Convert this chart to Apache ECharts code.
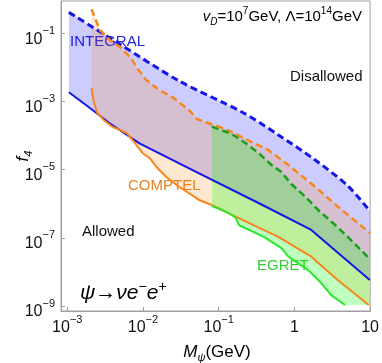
<!DOCTYPE html>
<html>
<head>
<meta charset="utf-8">
<script src="https://cdn.jsdelivr.net/npm/echarts@6/dist/echarts.min.js"></script>
<style>
  html, body { margin: 0; padding: 0; background: #fff; }
  #main { width: 382px; height: 363px; }
</style>
</head>
<body>
<div id="main"></div>
<script>
// points are [M_psi in GeV, f4]
const integralUpper = [
  [1.05e-3, 0.41], [4.9e-3, 0.0486], [0.030, 4.0e-3], [0.214, 4.6e-4],
  [0.615, 1.04e-4], [1.88, 1.92e-5], [5.1, 3.3e-6], [9.9, 6.1e-7]
];
const integralLower = [
  [1.05e-3, 1.86e-3], [1.99e-3, 6.4e-4], [3.63e-3, 2.29e-4], [8.98e-3, 5.9e-5],
  [0.055, 7.8e-6], [0.336, 1.05e-6], [1.67, 1.70e-7], [9.9, 5.8e-9]
];
const comptelUpper = [
  [2.09e-3, 0.506], [2.69e-3, 0.125], [3.63e-3, 0.0636], [4.91e-3, 0.0404],
  [7.0e-3, 0.0185], [8.13e-3, 0.0105], [0.011, 4.27e-3], [0.0164, 2.17e-3],
  [0.0243, 1.35e-3], [0.0406, 5.6e-4], [0.0518, 3.06e-4], [0.0743, 2.29e-4],
  [0.123, 1.56e-4], [0.225, 7.9e-5], [0.453, 3.77e-5], [0.833, 1.37e-5],
  [1.87, 3.16e-6], [3.76, 8.2e-7], [6.88, 2.72e-7], [9.9, 1.39e-7]
];
const comptelLower = [
  [2.09e-3, 2.48e-3], [2.21e-3, 1.10e-3], [2.45e-3, 4.91e-4], [3.03e-3, 2.86e-4],
  [3.97e-3, 1.78e-4], [4.91e-3, 1.46e-4], [6.07e-3, 1.19e-4], [7.27e-3, 7.4e-5],
  [9.84e-3, 3.08e-5], [0.0122, 2.20e-5], [0.0150, 1.22e-5], [0.0203, 6.1e-6],
  [0.0301, 3.1e-6], [0.0406, 2.03e-6], [0.055, 1.29e-6], [0.0814, 9.2e-7],
  [0.149, 4.68e-7], [0.615, 1.06e-7], [1.67, 2.8e-8], [3.76, 5.7e-9], [9.6, 1.07e-9]
];
const egretUpper = [
  [0.0814, 1.82e-4], [0.149, 1.11e-4], [0.225, 6.05e-5], [0.336, 3.08e-5],
  [0.499, 1.37e-5], [0.675, 8.5e-6], [0.912, 3.79e-6], [1.39, 1.61e-6],
  [2.06, 6.56e-7], [3.45, 2.38e-7], [5.6, 8.6e-8], [9.6, 2.56e-8]
];
const egretLower = [
  [0.0814, 8.6e-7], [0.110, 6.56e-7], [0.149, 4.68e-7], [0.168, 3.82e-7],
  [0.184, 2.38e-7], [0.305, 1.39e-7], [0.416, 9.9e-8], [0.675, 5.0e-8],
  [0.833, 2.8e-8], [1.52, 1.13e-8], [1.77, 8.1e-9], [2.26, 4.7e-9],
  [3.06, 2.09e-9], [4.67, 1.07e-9]
];
const egretFloor = [[10, 1.07e-9]];

const xTicks = [-3, -2, -1, 0, 1];
const yTicks = [-9, -7, -5, -3, -1];

const FONT = '"Liberation Sans", Arial, sans-serif';
const BLUE = '#1515e6';
const ORANGE = '#f7861c';
const GREEN = '#2ee62e';
const GREEN_DARK = '#1b9e1b';

const toLog = (pts) => pts.map((p) => [Math.log10(p[0]), Math.log10(p[1])]);

// filled band: upper curve then lower curve backwards, drawn as one polygon
function band(upper, lower, color) {
  const pts = toLog(upper).concat(toLog(lower).reverse());
  return {
    type: 'custom',
    coordinateSystem: 'cartesian2d',
    clip: true,
    silent: true,
    data: pts,
    renderItem: (params, api) => {
      if (params.dataIndex !== 0) return;
      return {
        type: 'polygon',
        shape: { points: pts.map((p) => api.coord(p)) },
        style: { fill: color },
      };
    },
  };
}

function curve(pts, color, width, dashed) {
  return {
    type: 'line',
    data: toLog(pts),
    showSymbol: false,
    silent: true,
    smooth: false,
    lineStyle: { color: color, width: width, type: dashed ? [7, 4] : 'solid' },
  };
}

function powLabel(v) {
  if (v === 0) return '{b|1}';
  if (v === 1) return '{b|10}';
  return '{b|10}{s|' + (v < 0 ? '\u2212' + -v : v) + '}';
}

const labelRich = {
  b: { fontSize: 16, lineHeight: 22, verticalAlign: 'bottom', fontFamily: FONT, color: '#111' },
  s: { fontSize: 11, lineHeight: 12, verticalAlign: 'top', fontFamily: FONT, color: '#111' },
};

const axisCommon = {
  type: 'value',
  axisLine: { onZero: false, lineStyle: { color: '#a0a0a0', width: 1 } },
  splitLine: { show: false },
};

const chart = echarts.init(document.getElementById('main'), null, { renderer: 'canvas' });

const txtRich = (size) => ({
  n: { fontSize: size, lineHeight: size + 6, fontFamily: FONT, color: '#111' },
  i: { fontSize: size, lineHeight: size + 6, fontFamily: FONT, fontStyle: 'italic', color: '#111' },
  sup: { fontSize: Math.round(size * 0.66), lineHeight: Math.round(size * 0.66), verticalAlign: 'top', fontFamily: FONT, color: '#111' },
  isup: { fontSize: Math.round(size * 0.66), lineHeight: Math.round(size * 0.66), verticalAlign: 'top', fontFamily: FONT, fontStyle: 'italic', color: '#111' },
  sub: { fontSize: Math.round(size * 0.66), lineHeight: Math.round(size * 0.66), verticalAlign: 'bottom', fontFamily: FONT, fontStyle: 'italic', color: '#111' },
});

chart.setOption({
  animation: false,
  grid: { left: 61, right: 10, top: 1, bottom: 52, show: true, borderColor: '#a0a0a0', borderWidth: 1 },
  xAxis: Object.assign({}, axisCommon, {
    min: -3.083,
    max: 1,
    axisTick: { inside: true, length: 4, customValues: xTicks, lineStyle: { color: '#a0a0a0' } },
    axisLabel: { customValues: xTicks, margin: 3, formatter: powLabel, rich: labelRich },
  }),
  yAxis: Object.assign({}, axisCommon, {
    min: -9.147,
    max: -0.053,
    axisTick: { inside: true, length: 4, customValues: yTicks, lineStyle: { color: '#a0a0a0' } },
    axisLabel: { customValues: yTicks, margin: 6, padding: [6, 0, 0, 0], formatter: powLabel, rich: labelRich },
  }),
  series: [
    band(integralUpper, integralLower, 'rgba(0,0,255,0.2)'),
    band(comptelUpper, comptelLower, 'rgba(255,128,0,0.18)'),
    band(egretUpper, egretLower.concat(egretFloor), 'rgba(0,255,0,0.25)'),
    Object.assign(curve(integralUpper, BLUE, 3, true), { smooth: 0.3 }),
    curve(integralLower, BLUE, 2, false),
    curve(comptelUpper, ORANGE, 2.5, true),
    curve(comptelLower, ORANGE, 2, false),
    curve(egretUpper, GREEN_DARK, 2.5, true),
    curve(egretLower, GREEN, 2, false),
  ],
  graphic: [
    {
      type: 'text', right: 20, top: 6,
      style: {
        text: '{i|v}{sub|D}{n|=10}{sup|7}{n|GeV, \u039B=10}{sup|14}{n|GeV}',
        rich: txtRich(15),
      },
    },
    { type: 'text', left: 290, top: 69, style: { text: 'Disallowed', font: '15px ' + FONT, fill: '#111' } },
    { type: 'text', left: 70, top: 34, style: { text: 'INTEGRAL', font: '15px ' + FONT, fill: '#2424e0' } },
    { type: 'text', left: 128, top: 178, style: { text: 'COMPTEL', font: '15px ' + FONT, fill: '#ea8024' } },
    { type: 'text', left: 82, top: 224, style: { text: 'Allowed', font: '15px ' + FONT, fill: '#111' } },
    { type: 'text', left: 257, top: 258, style: { text: 'EGRET', font: '15px ' + FONT, fill: '#33cc33' } },
    {
      type: 'text', left: 80, top: 280,
      style: {
        text: '{i|\u03C8}{n|\u2192}{i|\u03BDe}{isup|\u2212}{i|e}{isup|+}',
        rich: txtRich(21),
      },
    },
    {
      type: 'text', x: 217, y: 352,
      style: {
        text: '{i|M}{sub|\u03C8}{n|(GeV)}',
        rich: txtRich(17),
        align: 'center', verticalAlign: 'middle',
      },
    },
    {
      type: 'text', x: 23, y: 156, rotation: Math.PI / 2,
      style: {
        text: '{i|f}{sub|4}',
        rich: txtRich(17),
        align: 'center', verticalAlign: 'middle',
      },
    },
  ],
});
</script>
</body>
</html>
